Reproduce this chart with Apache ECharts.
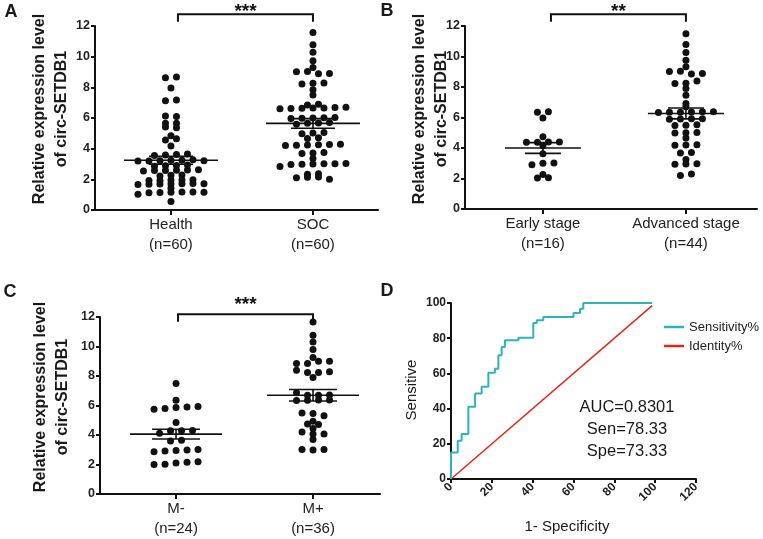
<!DOCTYPE html>
<html><head><meta charset="utf-8">
<script src="https://cdn.jsdelivr.net/npm/echarts@6/dist/echarts.min.js"></script>
<style>html,body{margin:0;padding:0;background:#fff}#c{width:763px;height:539px}</style>
</head><body><div id="c"></div>
<script>
// ---------------- data ----------------
const catsA = ['Health', 'SOC'];
const catsB = ['Early stage', 'Advanced stage'];
const catsC = ['M-', 'M+'];

const healthVals = [8.62, 8.68, 7.95, 7.13, 7.17, 6.13, 6.10, 5.65, 5.66, 5.41, 5.37, 4.84, 4.57, 4.64, 4.18,
  3.55, 3.58, 3.62, 3.66,
  3.19, 3.20, 3.22, 3.24, 3.25, 3.27, 3.21,
  2.86, 2.88, 2.91, 2.93,
  2.55, 2.57, 2.58, 2.60, 2.61, 2.62,
  2.22, 2.26, 2.28,
  1.92, 1.93, 1.95, 1.96, 1.98,
  1.66, 1.68, 1.69, 1.70, 1.72, 1.73, 1.71,
  1.42,
  1.02, 1.13, 1.14, 1.16, 1.17, 1.18, 1.15,
  0.55];
const socVals = [11.57, 10.78, 10.28, 9.74, 9.30, 9.02, 9.04, 8.88, 8.90, 8.22, 8.26, 8.28, 7.85, 7.50, 6.85, 6.90,
  6.60, 6.62, 6.64, 6.65, 6.66, 6.68, 6.70,
  5.96, 5.98, 6.00, 6.02, 6.04,
  5.60, 5.65, 5.68, 5.70,
  4.97, 5.02, 5.05,
  4.66, 4.72,
  4.20, 4.22, 4.24, 4.25, 4.27, 4.28,
  3.68, 3.72, 3.75,
  3.36,
  2.84, 2.97, 2.99, 3.00, 3.01, 3.02, 3.03,
  2.33, 2.36,
  2.10, 2.13, 2.16, 2.00];
const earlyVals = [6.35, 6.37, 5.96, 4.74, 4.37, 4.38, 4.39, 4.40, 4.15, 3.62, 2.90, 3.00, 3.02, 2.27, 2.04, 2.05];
const advancedVals = [11.50, 10.78, 10.26, 9.75, 9.32, 9.02, 9.04, 8.86, 8.88, 8.23, 8.25, 8.40, 7.90, 7.46, 6.92, 6.70,
  6.33, 6.34, 6.35, 6.36, 6.37, 6.38,
  5.88, 5.90, 5.91, 5.92,
  5.48, 5.50, 5.52,
  4.98, 5.00, 5.02,
  4.65,
  4.18, 4.20, 4.22,
  3.68, 3.70,
  3.25,
  2.93, 2.95, 2.97,
  2.20, 2.30];
const mNegVals = [7.49, 5.75, 5.80, 5.86, 5.90, 5.93, 6.36, 4.85, 4.12, 4.28, 4.29, 4.30, 3.60, 3.65,
  2.86, 2.92, 2.95, 2.98, 3.02, 2.00, 2.02, 2.10, 2.15, 2.18];
const mPosVals = [11.66, 10.76, 10.30, 9.79, 9.25, 8.85, 8.85, 9.00, 9.00, 8.39, 8.23, 8.23, 8.28, 7.90,
  6.87, 6.70, 6.70, 6.72, 6.34, 6.36, 6.37, 6.38, 5.49, 5.46, 5.30, 4.94, 4.74, 4.71, 4.44,
  4.20, 4.06, 4.06, 3.70, 3.02, 2.98, 3.02];

const sigA = '***', sigB = '**', sigC = '***';
const dotYTicks = [0, 12, 2]; // min, max, interval

const rocFpr = [0, 0, 3.3, 3.3, 5.2, 5.2, 8.5, 8.5, 11.8, 11.8, 15.0, 15.0, 18.3, 18.3, 21.5, 21.5, 23.2, 23.2,
  24.8, 24.8, 26.4, 26.4, 33.0, 33.0, 40.3, 40.3, 42.0, 42.0, 45.2, 45.2, 60.0, 60.0, 63.2, 63.2, 64.8, 64.8, 98.5];
const rocTpr = [0, 15.1, 15.1, 21.7, 21.7, 25.5, 25.5, 41.0, 41.0, 48.6, 48.6, 52.4, 52.4, 60.3, 60.3, 62.6, 62.6,
  70.3, 70.3, 75.0, 75.0, 78.8, 78.8, 80.3, 80.3, 88.7, 88.7, 90.2, 90.2, 92.0, 92.0, 94.3, 94.3, 96.8, 96.8, 100, 100];
const identFpr = [0, 98.5];
const identTpr = [0, 98.5];
const rocNames = ['Sensitivity%', 'Identity%'];
const aucLines = ['AUC=0.8301', 'Sen=78.33', 'Spe=73.33'];

// ---------------- helpers ----------------
const FONT = '"Liberation Sans", Arial, Helvetica, sans-serif';
const INK = '#111111';

function swarmSlots(vals, bin) {
  const order = vals.map((v, i) => i).sort((a, b) => vals[a] - vals[b] || a - b);
  const groups = []; let g = null;
  order.forEach(i => {
    if (!g || vals[i] - g.start > bin + 1e-9) { g = { start: vals[i], items: [] }; groups.push(g); }
    g.items.push(i);
  });
  const slots = [];
  groups.forEach(gr => {
    gr.items.sort((a, b) => a - b);
    const n = gr.items.length;
    gr.items.forEach((i, k) => { slots[i] = k - (n - 1) / 2; });
  });
  return slots;
}
function meanSem(a) {
  const n = a.length;
  const m = a.reduce((s, v) => s + v, 0) / n;
  const sd = Math.sqrt(a.reduce((s, v) => s + (v - m) * (v - m), 0) / (n - 1));
  return [m, sd / Math.sqrt(n)];
}

const panels = [
  { groups: [healthVals, socVals], cats: catsA, sig: sigA,
    grid: { left: 95, top: 26, width: 283, height: 184 }, xr: [0.465, 2.458],
    meanHW: 47, semHW: 22, brShift: 7, brY: -11.7, brTick: -4.3, starY: -14 },
  { groups: [earlyVals, advancedVals], cats: catsB, sig: sigB,
    grid: { left: 465, top: 26, width: 292, height: 183 }, xr: [0.455, 2.497],
    meanHW: 38, semHW: 18, brShift: 8, brY: -11.7, brTick: -4.3, starY: -14 },
  { groups: [mNegVals, mPosVals], cats: catsC, sig: sigC,
    grid: { left: 100, top: 317, width: 280, height: 177 }, xr: [0.445, 2.489],
    meanHW: 46, semHW: 24, brShift: 2, brY: -2.7, brTick: 4.7, starY: -12 }
];

const DOT_SPACING = 11, DOT_SIZE = 7, BIN = 0.2;

const grids = [], xAxes = [], yAxes = [], series = [];
const axisLineStyle = { color: INK, width: 2 };

panels.forEach((p, pi) => {
  grids.push(Object.assign({ outerBoundsMode: 'none', containLabel: false }, p.grid));
  xAxes.push({
    type: 'value', gridIndex: pi, min: p.xr[0], max: p.xr[1],
    axisLine: { show: true, onZero: false, lineStyle: axisLineStyle },
    axisTick: { show: true, customValues: [1, 2], length: 5, lineStyle: { color: INK, width: 2 } },
    axisLabel: {
      customValues: [1, 2], margin: 5, color: '#222', fontFamily: FONT, fontSize: 15, lineHeight: 20,
      formatter: v => { const k = Math.round(v) - 1; return p.cats[k] + '\n(n=' + p.groups[k].length + ')'; }
    },
    splitLine: { show: false }
  });
  yAxes.push({
    type: 'value', gridIndex: pi, min: dotYTicks[0], max: dotYTicks[1], interval: dotYTicks[2],
    axisLine: { show: true, lineStyle: axisLineStyle },
    axisTick: { show: true, length: 4, lineStyle: { color: INK, width: 2 } },
    axisLabel: { color: '#222', fontFamily: FONT, fontSize: 12.5, fontWeight: 'bold', margin: 5 },
    splitLine: { show: false }
  });
  const dots = [];
  p.groups.forEach((vals, gi) => {
    const slots = swarmSlots(vals, BIN);
    vals.forEach((v, i) => dots.push({ value: [gi + 1, v], symbolOffset: [slots[i] * DOT_SPACING, 0] }));
  });
  series.push({
    type: 'scatter', xAxisIndex: pi, yAxisIndex: pi, data: dots, symbol: 'circle', symbolSize: DOT_SIZE,
    itemStyle: { color: INK, opacity: 1 }, silent: true, z: 2
  });
  const stats = p.groups.map((vals, gi) => { const ms = meanSem(vals); return [gi + 1, ms[0], ms[1]]; });
  series.push({
    type: 'custom', xAxisIndex: pi, yAxisIndex: pi, data: stats, encode: { x: 0, y: 1 }, z: 3, silent: true,
    renderItem: (params, api) => {
      const x = api.value(0), m = api.value(1), s = api.value(2);
      const c = api.coord([x, m]), t = api.coord([x, m + s]), b = api.coord([x, m - s]);
      const st = { stroke: INK, lineWidth: 1.6 };
      return { type: 'group', children: [
        { type: 'line', shape: { x1: c[0] - p.meanHW, y1: c[1], x2: c[0] + p.meanHW, y2: c[1] }, style: st },
        { type: 'line', shape: { x1: c[0] - p.semHW, y1: t[1], x2: c[0] + p.semHW, y2: t[1] }, style: st },
        { type: 'line', shape: { x1: c[0] - p.semHW, y1: b[1], x2: c[0] + p.semHW, y2: b[1] }, style: st },
        { type: 'line', shape: { x1: c[0], y1: t[1], x2: c[0], y2: b[1] }, style: st }
      ]};
    }
  });
  series.push({
    type: 'custom', xAxisIndex: pi, yAxisIndex: pi, data: [[1, 2, dotYTicks[1]]], encode: { x: [0, 1], y: 2 },
    clip: false, z: 3, silent: true,
    renderItem: (params, api) => {
      const a = api.coord([api.value(0), api.value(2)]), b = api.coord([api.value(1), api.value(2)]);
      const x1 = a[0] + p.brShift, x2 = b[0], y = a[1] + p.brY, yt = a[1] + p.brTick;
      const st = { stroke: INK, lineWidth: 2, fill: null };
      return { type: 'group', children: [
        { type: 'polyline', shape: { points: [[x1, yt], [x1, y], [x2, y], [x2, yt]] }, style: st },
        { type: 'text', style: { text: p.sig, x: (x1 + x2) / 2, y: a[1] + p.starY, align: 'center', verticalAlign: 'middle',
          font: 'bold 19px ' + FONT, fill: INK } }
      ]};
    }
  });
});

// ROC panel
grids.push({ left: 451, top: 303, width: 245, height: 176, outerBoundsMode: 'none', containLabel: false });
xAxes.push({
  type: 'value', gridIndex: 3, min: 0, max: 120, interval: 20,
  axisLine: { show: true, onZero: false, lineStyle: axisLineStyle },
  axisTick: { show: true, length: 4, lineStyle: { color: INK, width: 2 } },
  axisLabel: { rotate: 45, color: '#222', fontFamily: FONT, fontSize: 12, fontWeight: 'bold', margin: 6 },
  splitLine: { show: false }
});
yAxes.push({
  type: 'value', gridIndex: 3, min: 0, max: 100, interval: 20,
  axisLine: { show: true, lineStyle: axisLineStyle },
  axisTick: { show: true, length: 4, lineStyle: { color: INK, width: 2 } },
  axisLabel: { color: '#222', fontFamily: FONT, fontSize: 12, fontWeight: 'bold', margin: 5 },
  splitLine: { show: false }
});
series.push({
  type: 'line', name: rocNames[1], xAxisIndex: 3, yAxisIndex: 3, symbol: 'none', silent: true,
  data: identFpr.map((x, i) => [x, identTpr[i]]), lineStyle: { color: '#E3261C', width: 1.5 }, itemStyle: { color: '#E3261C' }
});
series.push({
  type: 'line', name: rocNames[0], xAxisIndex: 3, yAxisIndex: 3, symbol: 'none', silent: true,
  data: rocFpr.map((x, i) => [x, rocTpr[i]]), lineStyle: { color: '#2FB3BB', width: 2 }, itemStyle: { color: '#2FB3BB' }
});

function txt(x, y, text, font, extra) {
  return Object.assign({ type: 'text', x: x, y: y, silent: true,
    style: { text: text, font: font, fill: '#1a1a1a', textAlign: 'center', textVerticalAlign: 'middle',
      align: 'center', verticalAlign: 'middle', lineHeight: 22 } }, extra || {});
}
const yTitle = 'Relative expression level\nof circ-SETDB1';
const graphic = [
  txt(11, 12, 'A', 'bold 18px ' + FONT),
  txt(387, 11, 'B', 'bold 18px ' + FONT),
  txt(10, 292, 'C', 'bold 18px ' + FONT),
  txt(387, 291, 'D', 'bold 18px ' + FONT),
  txt(51, 109, yTitle, 'bold 16px ' + FONT, { rotation: Math.PI / 2 }),
  txt(431, 109, yTitle, 'bold 16px ' + FONT, { rotation: Math.PI / 2 }),
  txt(51.5, 397, yTitle, 'bold 16px ' + FONT, { rotation: Math.PI / 2 }),
  txt(412, 390, 'Sensitive', '15px ' + FONT, { rotation: Math.PI / 2 }),
  txt(567, 527, '1- Specificity', '15px ' + FONT),
  txt(627, 429, aucLines.join('\n'), '16.5px ' + FONT)
];

const chart = echarts.init(document.getElementById('c'), null, { renderer: 'canvas' });
chart.setOption({
  animation: false,
  backgroundColor: '#fff',
  textStyle: { fontFamily: FONT },
  grid: grids, xAxis: xAxes, yAxis: yAxes, series: series,
  legend: {
    data: rocNames, orient: 'vertical', left: 659, top: 314, icon: 'rect', itemWidth: 20, itemHeight: 2.5, itemGap: 3,
    textStyle: { fontSize: 13, lineHeight: 16, color: '#222', fontFamily: FONT }, selectedMode: false
  },
  graphic: graphic
});
</script></body></html>
